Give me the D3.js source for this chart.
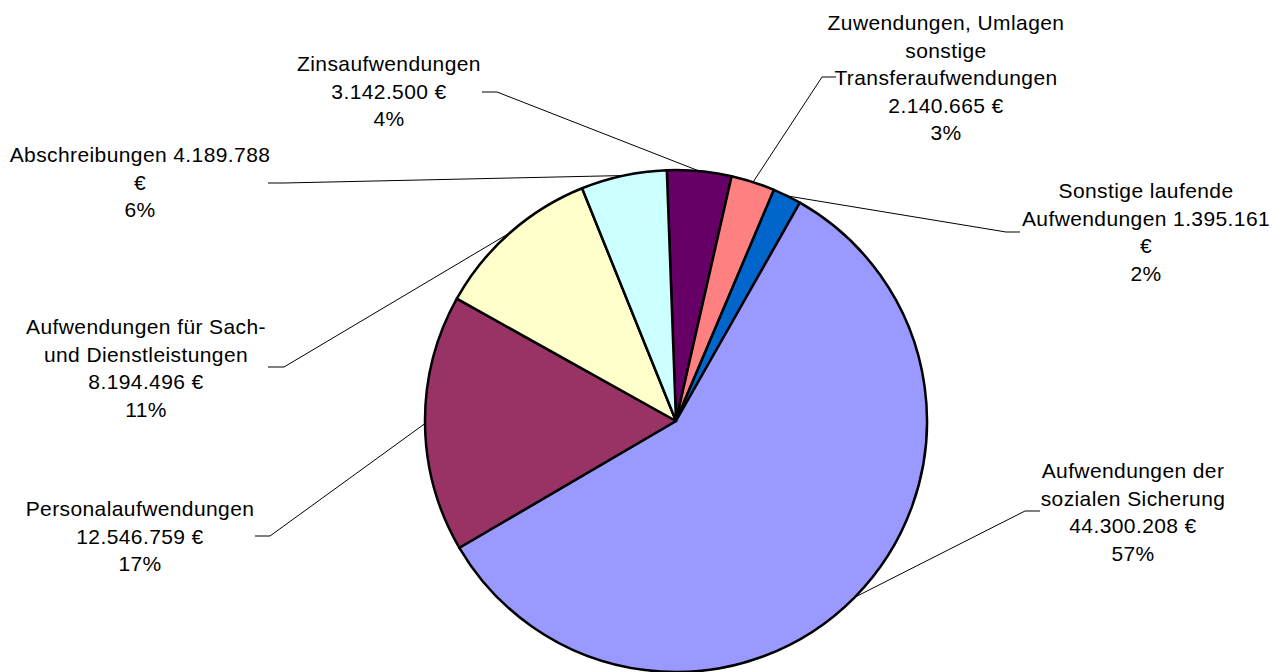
<!DOCTYPE html>
<html>
<head>
<meta charset="utf-8">
<script src="https://cdn.jsdelivr.net/npm/d3@7"></script>
<style>
  body { margin: 0; background: #fff; }
  text { font-family: "Liberation Sans", Arial, sans-serif; font-size: 21px; fill: #000; letter-spacing: 0.4px; }
</style>
</head>
<body>
<div id="chart"></div>
<script>
// Data, in clockwise order from the top
const categories = [
  "Zinsaufwendungen",
  "Zuwendungen, Umlagen sonstige Transferaufwendungen",
  "Sonstige laufende Aufwendungen",
  "Aufwendungen der sozialen Sicherung",
  "Personalaufwendungen",
  "Aufwendungen für Sach- und Dienstleistungen",
  "Abschreibungen"
];
const values = [3142500, 2140665, 1395161, 44300208, 12546759, 8194496, 4189788];
const percentLabels = ["4%", "3%", "2%", "57%", "17%", "11%", "6%"];
// label text lines as in the original (Excel wrapping)
const labelLines = [
  ["Zinsaufwendungen", "3.142.500 €", "4%"],
  ["Zuwendungen, Umlagen", "sonstige", "Transferaufwendungen", "2.140.665 €", "3%"],
  ["Sonstige laufende", "Aufwendungen 1.395.161", "€", "2%"],
  ["Aufwendungen der", "sozialen Sicherung", "44.300.208 €", "57%"],
  ["Personalaufwendungen", "12.546.759 €", "17%"],
  ["Aufwendungen für Sach-", "und Dienstleistungen", "8.194.496 €", "11%"],
  ["Abschreibungen 4.189.788", "€", "6%"]
];
const colors = ["#660066", "#FF8080", "#0066CC", "#9999FF", "#993366", "#FFFFCC", "#CCFFFF"];

// Label layout: text centre x, first baseline, stub start and stub end
const labelLayout = [
  { cx: 389, y0: 71, stub: [[482, 92], [497, 92]] },
  { cx: 946, y0: 30, stub: [[836, 77], [822, 77]] },
  { cx: 1146, y0: 198, stub: [[1020, 232], [1006, 232]] },
  { cx: 1133, y0: 478, stub: [[1040, 511], [1025, 511]] },
  { cx: 140, y0: 516, stub: [[255, 536], [270, 536]] },
  { cx: 146, y0: 334, stub: [[268, 367], [284, 367]] },
  { cx: 140, y0: 162, stub: [[268, 183], [284, 183]] }
];
const lineHeight = 27.5;

const width = 1274, height = 672;
const cx = 676, cy = 421, radius = 251;
const startAngle = -2.1 * Math.PI / 180;

const svg = d3.select("#chart")
  .append("svg")
  .attr("width", width)
  .attr("height", height);

const pie = d3.pie()
  .sort(null)
  .value(d => d)
  .startAngle(startAngle)
  .endAngle(startAngle + 2 * Math.PI);

const arcs = pie(values);

const arc = d3.arc().innerRadius(0).outerRadius(radius);

const g = svg.append("g").attr("transform", `translate(${cx},${cy})`);

// Slices
g.selectAll("path.slice")
  .data(arcs)
  .enter()
  .append("path")
  .attr("class", "slice")
  .attr("d", arc)
  .attr("fill", (d, i) => colors[i])
  .attr("stroke", "#000")
  .attr("stroke-width", 2.5)
  .attr("stroke-linejoin", "round");

// Leader lines: stub then straight to mid-angle point on the rim
arcs.forEach((d, i) => {
  const mid = (d.startAngle + d.endAngle) / 2;
  const px = cx + radius * Math.sin(mid);
  const py = cy - radius * Math.cos(mid);
  const s = labelLayout[i].stub;
  svg.append("polyline")
    .attr("points", `${s[0][0]},${s[0][1]} ${s[1][0]},${s[1][1]} ${px},${py}`)
    .attr("fill", "none")
    .attr("stroke", "#000")
    .attr("stroke-width", 1);
});

// Labels
labelLines.forEach((lines, i) => {
  const lay = labelLayout[i];
  const t = svg.append("text")
    .attr("text-anchor", "middle");
  lines.forEach((line, j) => {
    t.append("tspan")
      .attr("x", lay.cx)
      .attr("y", lay.y0 + j * lineHeight)
      .text(line);
  });
});
</script>
</body>
</html>
